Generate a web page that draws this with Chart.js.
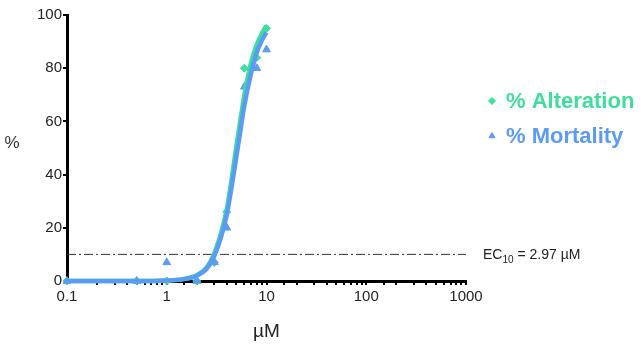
<!DOCTYPE html>
<html lang="en">
<head>
    <meta charset="UTF-8">
    <title>EC10</title>
    <style>
        body { margin: 0; background: #fff; }
        #chartBlock { width: 644px; height: 347px; position: relative; }
    </style>
</head>
<body>
    <div id="chartBlock">
        <canvas id="myChart"></canvas>
    </div>

<script src="https://cdn.jsdelivr.net/npm/chart.js@4"></script>
<script>
    // measured points
    var concAlteration = [0.1, 0.5, 1, 2, 3, 4, 6, 8, 10];
    var valAlteration  = [0, 0, 0, 0, 7, 26, 80, 84, 95];
    var concMortality  = [0.1, 0.5, 1, 2, 3, 4, 6, 8, 10];
    var valMortality   = [0, 0, 7, 0, 7, 20, 73, 80, 87];

    // fitted curves
    var fitConc       = [0.1, 0.5, 1, 1.5, 2, 2.5, 3, 3.5, 4, 4.5, 5, 5.5, 6, 7, 8, 9, 10];
    var fitAlteration = [0, 0, 0.2, 0.8, 2.2, 5, 10.5, 18, 27, 39, 51, 61, 70, 82, 89, 93, 96];
    var fitMortality  = [0, 0, 0.2, 0.7, 2, 4.5, 9.5, 16.5, 25, 36, 47, 57, 66, 78, 86, 90.5, 93.5];

    var ecConc  = [0.1, 1000];
    var ecValue = [10, 10];
    var ecLabel = 'EC';
    var ecText  = ' = 2.97 µM';

    var yTicks = [0, 20, 40, 60, 80, 100];

    var green = '#3fdd9c';
    var blue  = '#5a9cf3';

    function pairs(xs, ys) {
        var out = [];
        for (let i = 0; i < xs.length; i++) {
            out.push({ x: xs[i], y: ys[i] });
        }
        return out;
    }

    var extras = {
        id: 'extras',
        afterDraw: function (chart) {
            var ctx = chart.ctx;
            var ys = chart.scales.y;
            ctx.save();
            // y title, clipped at the left edge
            ctx.fillStyle = '#333';
            ctx.font = '17px "Liberation Sans", Arial, sans-serif';
            ctx.textBaseline = 'middle';
            ctx.textAlign = 'center';
            ctx.fillText('%', 12, 143);

            // EC10 label
            var yy = ys.getPixelForValue(ecValue[0]);
            ctx.textAlign = 'left';
            ctx.font = '14px "Liberation Sans", Arial, sans-serif';
            ctx.fillStyle = '#222';
            var x0 = 483;
            ctx.fillText(ecLabel, x0, yy + 1);
            var w = ctx.measureText(ecLabel).width;
            ctx.font = '10px "Liberation Sans", Arial, sans-serif';
            ctx.fillText('10', x0 + w, yy + 6);
            var w2 = ctx.measureText('10').width;
            ctx.font = '14px "Liberation Sans", Arial, sans-serif';
            ctx.fillText(ecText, x0 + w + w2, yy + 1);

            // legend
            var items = [
                { label: chart.data.datasets[0].label, color: green, style: 'rectRot', y: 101 },
                { label: chart.data.datasets[1].label, color: blue, style: 'triangle', y: 136 }
            ];
            ctx.font = 'bold 22px "Liberation Sans", Arial, sans-serif';
            items.forEach(function (it) {
                ctx.fillStyle = it.color;
                ctx.strokeStyle = it.color;
                Chart.helpers.drawPoint(ctx, {
                    pointStyle: it.style, radius: 3.5, borderWidth: 1,
                    rotation: 0
                }, 492, it.y);
                ctx.fillText(it.label, 506, it.y + 1);
            });
            ctx.restore();
        }
    };

    window.onload = function () {
        var ctx = document.getElementById('myChart').getContext('2d');
        new Chart(ctx, {
            type: 'scatter',
            data: {
                datasets: [
                    {
                        label: '% Alteration',
                        data: pairs(concAlteration, valAlteration),
                        pointStyle: 'rectRot',
                        pointRadius: 4,
                        backgroundColor: green,
                        borderColor: green,
                        order: 4
                    },
                    {
                        label: '% Mortality',
                        data: pairs(concMortality, valMortality),
                        pointStyle: 'triangle',
                        pointRadius: 4.5,
                        backgroundColor: blue,
                        borderColor: blue,
                        order: 3
                    },
                    {
                        label: 'fit alteration',
                        type: 'line',
                        data: pairs(fitConc, fitAlteration),
                        borderColor: green,
                        borderWidth: 4.5,
                        pointRadius: 0,
                        cubicInterpolationMode: 'monotone',
                        fill: false,
                        order: 2
                    },
                    {
                        label: 'fit mortality',
                        type: 'line',
                        data: pairs(fitConc, fitMortality),
                        borderColor: blue,
                        borderWidth: 4.5,
                        pointRadius: 0,
                        cubicInterpolationMode: 'monotone',
                        fill: false,
                        order: 1
                    },
                    {
                        label: 'EC10',
                        type: 'line',
                        data: pairs(ecConc, ecValue),
                        borderColor: '#333',
                        borderWidth: 1,
                        borderDash: [9, 3, 2, 3],
                        pointRadius: 0,
                        fill: false,
                        order: 5
                    }
                ]
            },
            options: {
                responsive: true,
                maintainAspectRatio: false,
                animation: false,
                clip: false,
                layout: { padding: { left: 0, right: 178, top: 15, bottom: 0 } },
                plugins: {
                    legend: { display: false },
                    tooltip: { enabled: false }
                },
                scales: {
                    x: {
                        type: 'logarithmic',
                        min: 0.1,
                        max: 1000,
                        border: { color: '#000', width: 3 },
                        grid: { drawOnChartArea: false, drawTicks: true, tickLength: 4, color: '#000', lineWidth: 2 },
                        ticks: {
                            color: '#222',
                            font: { size: 15, family: '"Liberation Sans", Arial, sans-serif' },
                            maxRotation: 0,
                            autoSkip: false,
                            padding: 3,
                            callback: function (v) {
                                var l = Math.log10(v);
                                if (Math.abs(l - Math.round(l)) < 1e-6) return String(v);
                                return '';
                            }
                        },
                        title: {
                            display: true,
                            text: 'µM',
                            color: '#222',
                            font: { size: 19, family: '"Liberation Sans", Arial, sans-serif' },
                            padding: { top: 12 }
                        },
                        afterFit: function (s) { s.height = 66; }
                    },
                    y: {
                        min: 0,
                        max: 100,
                        afterBuildTicks: function (s) {
                            s.ticks = yTicks.map(function (v) { return { value: v }; });
                        },
                        border: { color: '#000', width: 3 },
                        grid: { drawOnChartArea: false, drawTicks: true, tickLength: 4, color: '#000', lineWidth: 2 },
                        ticks: {
                            color: '#222',
                            font: { size: 15, family: '"Liberation Sans", Arial, sans-serif' },
                            padding: 1
                        },
                        afterFit: function (s) { s.width = 67; }
                    }
                }
            },
            plugins: [extras]
        });
    };
</script>
</body>
</html>
